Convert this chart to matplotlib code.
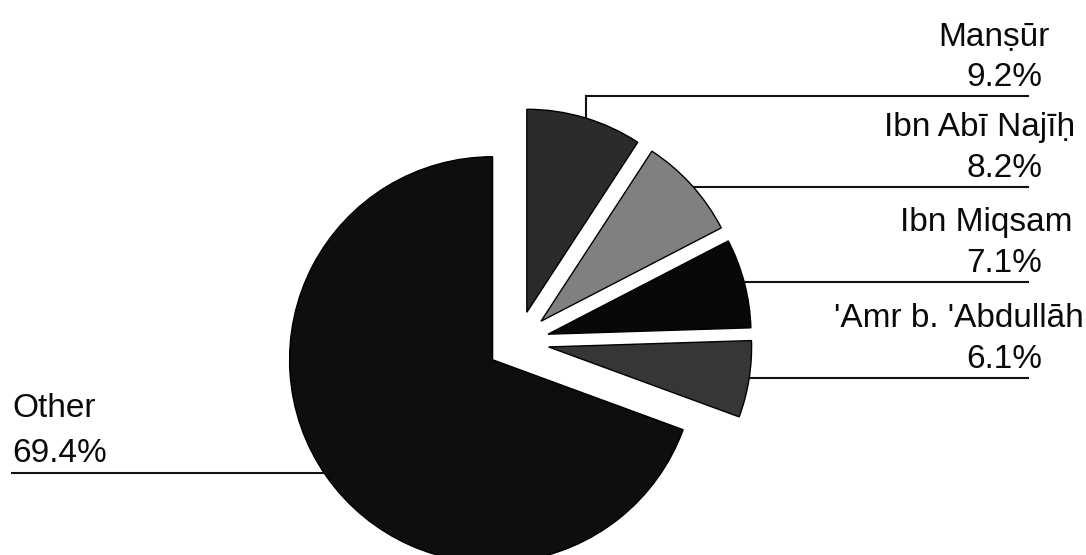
import numpy as np
import matplotlib
matplotlib.use('Agg')
import matplotlib.pyplot as plt

# quote shares per transmitter
names = ['Manṣūr', 'Ibn Abī Najīḥ', 'Ibn Miqsam', "'Amr b. 'Abdullāh", 'Other']
shares = [9.2, 8.2, 7.1, 6.1, 69.4]
colours = ['#2b2b2b', '#808080', '#080808', '#363636', '#0e0e0e']

W, H = 1086, 555
fig = plt.figure(figsize=(W / 100, H / 100), dpi=100)
ax = fig.add_axes([0, 0, 1, 1])

# pie in pixel units, every slice pulled out a bit
R = 203
ax.pie(shares, startangle=90, counterclock=False, colors=colours,
       radius=R, center=(518, H - 342), explode=[31] * len(shares),
       wedgeprops=dict(edgecolor='black', linewidth=1.0))

ax.set_xlim(0, W)
ax.set_ylim(0, H)
ax.set_aspect('equal')
ax.axis('off')

fnt = dict(family=['Liberation Sans', 'DejaVu Sans'], fontsize=24, color='#0a0a0a')

# leader lines (behind the slices), label positions
line_y = [96, 187, 282, 378, 473]
line_x0 = [586, 680, 735, 735, 12]
line_x1 = [1028, 1028, 1028, 1028, 340]
name_x = [1050, 1075, 1073, 1084, 12]

for i, nm in enumerate(names):
    y = line_y[i]
    ax.plot([line_x0[i], line_x1[i]], [H - y, H - y], color='#111111', lw=1.5, zorder=0)
    if nm == 'Other':
        ax.text(name_x[i], H - (y - 56), nm, ha='left', va='baseline', **fnt)
        ax.text(name_x[i], H - (y - 11), f'{shares[i]}%', ha='left', va='baseline', **fnt)
    else:
        ax.text(name_x[i], H - (y - 51), nm, ha='right', va='baseline', **fnt)
        ax.text(1042, H - (y - 10), f'{shares[i]}%', ha='right', va='baseline', **fnt)

# short drop from the top line onto the first slice
ax.plot([586, 586], [H - 96, H - 125], color='#111111', lw=1.5, zorder=0)

fig.savefig('out.png', dpi=100, facecolor='white')
